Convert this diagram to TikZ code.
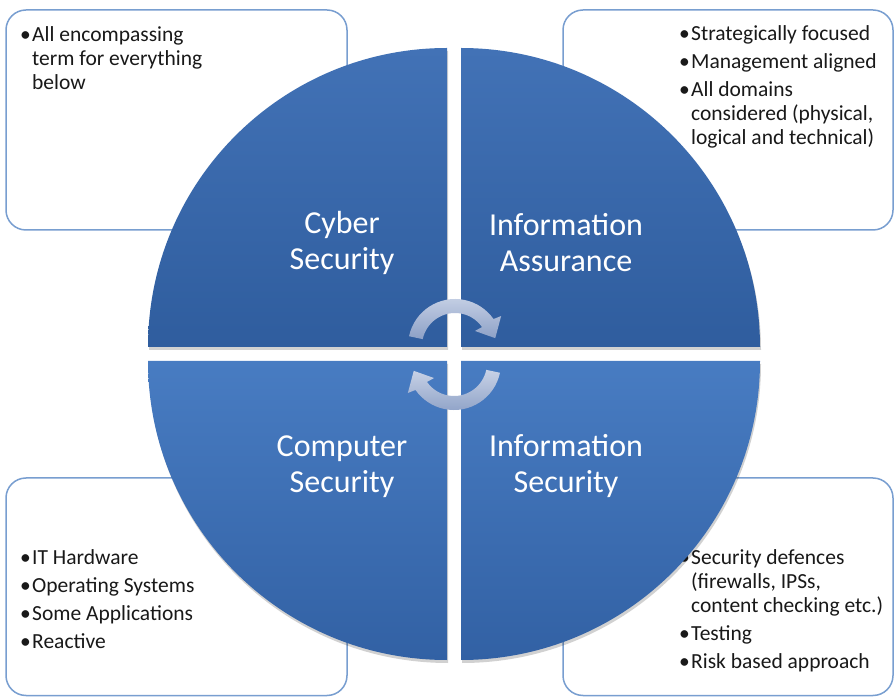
\documentclass[tikz,border=0pt]{standalone}
\usepackage{fontspec}
\setmainfont{Carlito}
\definecolor{boxline}{RGB}{120,158,208}
\definecolor{qtopA}{RGB}{66,114,182}
\definecolor{qtopB}{RGB}{47,93,158}
\definecolor{qbotA}{RGB}{72,124,194}
\definecolor{qbotB}{RGB}{50,97,164}
\definecolor{arrA}{RGB}{200,210,230}
\definecolor{arrB}{RGB}{140,160,198}
\definecolor{txt}{RGB}{25,25,25}
\newcommand{\bitem}[1]{\hangindent=12pt\hangafter=1\noindent\makebox[12pt][l]{\textbullet}#1\par}
\newcommand{\blist}[1]{\parbox[t]{260pt}{\raggedright\fontsize{21.5}{24}\selectfont\setlength{\parskip}{4pt}#1}}
\begin{document}
\begin{tikzpicture}[x=1pt,y=1pt,
  infobox/.style={draw=boxline, line width=1.5pt, rounded corners=20pt, fill=white},
  qlabel/.style={text=white, font=\fontsize{32}{36}\selectfont, align=center, inner sep=0pt},
  bullets/.style={anchor=base west, inner sep=0pt, text=txt},
  qshadow/.style={fill=black, opacity=0.18},
  cycarrow/.style={top color=arrA, bottom color=arrB}
]
\useasboundingbox (0,0) rectangle (895,697);
\fill[white] (0,0) rectangle (895,697);

% info boxes
\draw[infobox] (6,467) rectangle (347,687);
\draw[infobox] (563,467) rectangle (893,687);
\draw[infobox] (6,1.5) rectangle (347,219);
\draw[infobox] (563,1.5) rectangle (893,219);

% box texts
\node[bullets] (tltext) at (20,655) {\blist{\bitem{All encompassing\newline term for everything\newline below}}};
\node[bullets] (trtext) at (679,656) {\blist{\bitem{Strategically focused}\bitem{Management aligned}\bitem{All domains\newline considered (physical,\newline logical and technical)}}};
\node[bullets] (bltext) at (20,132) {\blist{\bitem{IT Hardware}\bitem{Operating Systems}\bitem{Some Applications}\bitem{Reactive}}};
\node[bullets] (brtext) at (679,132) {\blist{\bitem{Security defences\newline (firewalls, IPSs,\newline content checking etc.)}\bitem{Testing}\bitem{Risk based approach}}};

% shadows of quadrants
\begin{scope}[shift={(1,-3)}]
\fill[qshadow] (447,350) -- (148,350) arc[start angle=180,end angle=90,radius=299] -- cycle;
\fill[qshadow] (461,350) -- (461,649) arc[start angle=90,end angle=0,radius=299] -- cycle;
\fill[qshadow] (447,336) -- (148,336) arc[start angle=180,end angle=270,radius=299] -- cycle;
\fill[qshadow] (461,336) -- (760,336) arc[start angle=0,end angle=-90,radius=299] -- cycle;
\end{scope}

% quadrants
\shade[top color=qtopA, bottom color=qtopB] (447,350) -- (148,350) arc[start angle=180,end angle=90,radius=299] -- cycle;
\shade[top color=qtopA, bottom color=qtopB] (461,350) -- (461,649) arc[start angle=90,end angle=0,radius=299] -- cycle;
\shade[top color=qbotA, bottom color=qbotB] (447,336) -- (148,336) arc[start angle=180,end angle=270,radius=299] -- cycle;
\shade[top color=qbotA, bottom color=qbotB] (461,336) -- (760,336) arc[start angle=0,end angle=-90,radius=299] -- cycle;

% quadrant labels
\node[qlabel] (cyber) at (342,454.5) {Cyber\\Security};
\node[qlabel] (assur) at (566,454.5) {Information\\Assurance};
\node[qlabel] (comp) at (342,230.5) {Computer\\Security};
\node[qlabel] (infosec) at (566,230.5) {Information\\Security};

% cycle arrows
\begin{scope}[shift={(455,351)}]
\shade[cycarrow] (168:47) arc[start angle=168,end angle=35,radius=47] -- (33:55) -- (11:41) -- (37:25) -- (35:33) arc[start angle=35,end angle=168,radius=33] -- cycle;
\end{scope}
\begin{scope}[shift={(454,334)}, rotate=180]
\shade[cycarrow] (168:47) arc[start angle=168,end angle=35,radius=47] -- (33:55) -- (11:41) -- (37:25) -- (35:33) arc[start angle=35,end angle=168,radius=33] -- cycle;
\end{scope}
\end{tikzpicture}
\end{document}
